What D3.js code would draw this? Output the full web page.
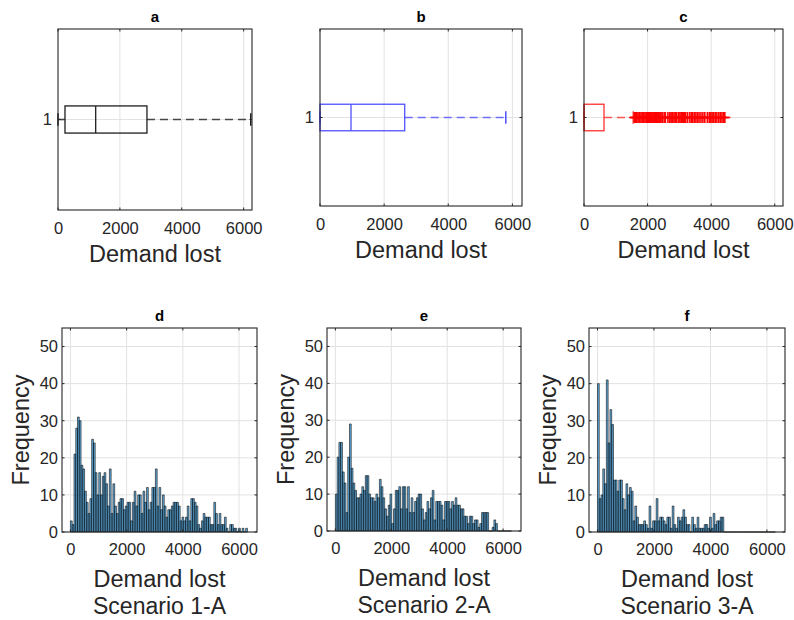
<!DOCTYPE html>
<html><head><meta charset="utf-8">
<script src="https://cdn.jsdelivr.net/npm/d3@7"></script>
<style>
body{margin:0;background:#fff}
svg{display:block}
text{font-family:"Liberation Sans",Arial,Helvetica,sans-serif}
</style>
</head><body>
<svg id="chart" width="794" height="620"></svg>
<script>
// ---------------- DATA ----------------
const boxTitles = ["a", "b", "c"];
const boxColors = ["#1f1f1f", "#5050ff", "#ff3030"];
// [lower whisker, q1, median, q3, upper whisker]
const boxA = [0, 226, 1218, 2875, 6230];
const boxB = [0, 0, 967, 2642, 5794];
const boxC = [0, 0, 8, 629, 1550];
const outliersC = [1590, 1620, 1660, 1700, 1740, 1790, 1830, 1880, 1920, 1960, 2000, 2030, 2060,
  2090, 2110, 2140, 2170, 2200, 2220, 2250, 2280, 2300, 2330, 2360, 2390, 2420, 2460, 2520, 2560,
  2640, 2700, 2740, 2780, 2830, 2870, 2920, 2980, 3020, 3060, 3100, 3130, 3160, 3200, 3260, 3330,
  3380, 3420, 3470, 3520, 3570, 3620, 3680, 3740, 3800, 3880, 3940, 3990, 4030, 4080, 4130, 4180,
  4240, 4290, 4340, 4390, 4430];
const boxXMax = [6270, 6300, 6260];
const boxTicks = [0, 2000, 4000, 6000];

const histTitles = ["d", "e", "f"];
const scenarioLabels = ["Scenario 1-A", "Scenario 2-A", "Scenario 3-A"];
const binStart = 0;
const binWidth = 63;
const histD = [3,2,21,28,31,30,18,17,11,8, 5,9,25,24,16,10,16,10,15,16,
  13,7,17,5,13,7,5,8,9,9, 6,7,8,8,3,8,11,7,10,10,
  5,11,8,12,6,8,12,12,17,7, 12,6,10,7,4,6,6,7,8,8,
  8,7,3,4,3,4,7,3,9,9, 8,7,2,1,3,5,4,4,4,2,
  2,8,5,2,5,2,2,4,1,0, 2,2,1,1,0,1,0,1,0,1];
const histE = [10,20,24,24,16,13,5,20,29,17, 13,11,9,9,10,12,11,15,15,10,
  9,9,8,10,9,14,12,9,6,4, 7,10,2,6,11,11,12,6,12,12,
  6,12,5,9,5,8,9,10,10,6, 3,5,8,6,9,11,3,8,8,8,
  7,3,8,8,8,6,8,7,9,7, 7,6,6,4,4,2,4,4,2,3,
  3,1,2,5,5,5,5,0,0,1, 3,2,0,0,0,0,0,0,0,0];
const histF = [40,9,10,17,13,41,24,33,29,14, 14,11,14,14,9,6,13,10,12,11,
  3,7,4,2,2,2,3,2,1,7, 1,3,3,9,3,4,4,3,2,4,
  4,1,7,2,1,4,3,4,6,4, 2,2,0,4,2,1,4,1,1,1,
  2,2,1,4,1,5,2,3,3,4, 4,0,0,0,0,0,0,0,0,0,
  0,0,0,0,0,0,0,0,0,0, 0,0,0,0,0,0,0,0,0,0];
const histXDomain = [-300, 6640];
const histYDomain = [0, 55];
const histXTicks = [0, 2000, 4000, 6000];
const histYTicks = [0, 10, 20, 30, 40, 50];
const xLabel = "Demand lost";
const yLabel = "Frequency";

// ---------------- LAYOUT ----------------
const topAxes = [
  {x0: 58, x1: 252, y0: 29, y1: 210},
  {x0: 320, x1: 522, y0: 29, y1: 206},
  {x0: 584, x1: 783, y0: 29, y1: 206}
];
const botAxes = [
  {x0: 62, x1: 257, y0: 328, y1: 532},
  {x0: 327, x1: 521, y0: 328, y1: 531},
  {x0: 589, x1: 785, y0: 328, y1: 532}
];
const AXC = "#262626", GRID = "#e2e2e2", TICKFS = 16.5, LABFS = 23.5, TITLEFS = 15;

const svg = d3.select("#chart");

function drawGrid(g, ax, xs, ys, xt, yt) {
  g.selectAll(null).data(xt).enter().append("line")
    .attr("x1", d => xs(d)).attr("x2", d => xs(d)).attr("y1", ax.y0).attr("y2", ax.y1)
    .attr("stroke", GRID).attr("stroke-width", 1);
  g.selectAll(null).data(yt).enter().append("line")
    .attr("x1", ax.x0).attr("x2", ax.x1).attr("y1", d => ys(d)).attr("y2", d => ys(d))
    .attr("stroke", GRID).attr("stroke-width", 1);
}
function drawFrame(g, ax, xs, ys, xt, yt) {
  const tl = 2.5;
  g.append("rect").attr("x", ax.x0).attr("y", ax.y0)
    .attr("width", ax.x1 - ax.x0).attr("height", ax.y1 - ax.y0)
    .attr("fill", "none").attr("stroke", AXC).attr("stroke-width", 1.1);
  xt.forEach(v => {
    const x = xs(v);
    g.append("line").attr("x1", x).attr("x2", x).attr("y1", ax.y1).attr("y2", ax.y1 - tl).attr("stroke", AXC);
    g.append("line").attr("x1", x).attr("x2", x).attr("y1", ax.y0).attr("y2", ax.y0 + tl).attr("stroke", AXC);
  });
  yt.forEach(v => {
    const y = ys(v);
    g.append("line").attr("x1", ax.x0).attr("x2", ax.x0 + tl).attr("y1", y).attr("y2", y).attr("stroke", AXC);
    g.append("line").attr("x1", ax.x1).attr("x2", ax.x1 - tl).attr("y1", y).attr("y2", y).attr("stroke", AXC);
  });
}
function styleAxis(sel, fs) {
  sel.select(".domain").remove();
  sel.selectAll("text").attr("font-size", fs).attr("fill", AXC)
    .attr("font-family", '"Liberation Sans",Arial,Helvetica,sans-serif');
}

// ---------------- BOX PLOTS ----------------
const boxStats = [boxA, boxB, boxC];
const boxOutliers = [[], [], outliersC];
topAxes.forEach((ax, i) => {
  const g = svg.append("g");
  const xs = d3.scaleLinear().domain([0, boxXMax[i]]).range([ax.x0, ax.x1]);
  const ys = d3.scaleLinear().domain([0.5, 1.5]).range([ax.y1, ax.y0]);
  const xt = boxTicks.filter(t => t > 0);
  drawGrid(g, ax, xs, ys, xt, [1]);
  const col = boxColors[i];
  const s = boxStats[i];
  const yc = ys(1), hb = Math.abs(ys(1.075) - ys(1)), hc = Math.abs(ys(1.035) - ys(1));
  // whiskers (dashed)
  g.append("line").attr("x1", xs(s[3])).attr("x2", xs(s[4])).attr("y1", yc).attr("y2", yc)
    .attr("stroke", col).attr("stroke-opacity", 0.8).attr("stroke-width", 1.6).attr("stroke-dasharray", "8,5");
  if (s[1] > s[0]) g.append("line").attr("x1", xs(s[0])).attr("x2", xs(s[1])).attr("y1", yc).attr("y2", yc)
    .attr("stroke", col).attr("stroke-opacity", 0.8).attr("stroke-width", 1.6).attr("stroke-dasharray", "8,5");
  // caps
  [s[0], s[4]].forEach(v => g.append("line").attr("x1", xs(v)).attr("x2", xs(v))
    .attr("y1", yc - hc).attr("y2", yc + hc).attr("stroke", col).attr("stroke-width", 1.5));
  // box
  g.append("rect").attr("x", xs(s[1])).attr("y", yc - hb).attr("width", xs(s[3]) - xs(s[1]))
    .attr("height", 2 * hb).attr("fill", "none").attr("stroke", col).attr("stroke-width", 1.3);
  // median
  g.append("line").attr("x1", xs(s[2])).attr("x2", xs(s[2])).attr("y1", yc - hb).attr("y2", yc + hb)
    .attr("stroke", col).attr("stroke-width", 1.3);
  // outliers
  const ms = 5.5;
  boxOutliers[i].forEach(v => {
    g.append("path").attr("d", `M${xs(v) - ms},${yc}H${xs(v) + ms}M${xs(v)},${yc - ms}V${yc + ms}`)
      .attr("stroke", "#ff0000").attr("stroke-width", 1.6).attr("fill", "none");
  });
  drawFrame(g, ax, xs, ys, boxTicks, [1]);
  // axes labels
  const xa = g.append("g").attr("transform", `translate(0,${ax.y1})`)
    .call(d3.axisBottom(xs).tickValues(boxTicks).tickSize(0).tickPadding(12).tickFormat(d3.format("d")));
  styleAxis(xa, TICKFS);
  const ya = g.append("g").attr("transform", `translate(${ax.x0},0)`)
    .call(d3.axisLeft(ys).tickValues([1]).tickSize(0).tickPadding(6).tickFormat(d3.format("d")));
  styleAxis(ya, TICKFS);
  g.append("text").attr("x", (ax.x0 + ax.x1) / 2).attr("y", 22).attr("text-anchor", "middle")
    .attr("font-size", TITLEFS).attr("font-weight", "bold").attr("fill", "#000").text(boxTitles[i]);
  g.append("text").attr("x", (ax.x0 + ax.x1) / 2).attr("y", ax.y1 + 52).attr("text-anchor", "middle")
    .attr("font-size", LABFS).attr("fill", AXC).text(xLabel);
});

// ---------------- HISTOGRAMS ----------------
const histData = [histD, histE, histF];
botAxes.forEach((ax, i) => {
  const g = svg.append("g");
  const xs = d3.scaleLinear().domain(histXDomain).range([ax.x0, ax.x1]);
  const ys = d3.scaleLinear().domain(histYDomain).range([ax.y1, ax.y0]);
  drawGrid(g, ax, xs, ys, histXTicks, histYTicks.filter(t => t > 0));
  const bins = histData[i].map((c, k) => ({x0: binStart + k * binWidth, x1: binStart + (k + 1) * binWidth, c}));
  g.selectAll(null).data(bins).enter().append("path")
    .attr("d", b => `M${xs(b.x0)},${ys(0)}V${ys(b.c)}H${xs(b.x1)}V${ys(0)}Z`)
    .attr("fill", "#0072bd").attr("fill-opacity", 0.62)
    .attr("stroke", "#000").attr("stroke-width", 0.55);
  drawFrame(g, ax, xs, ys, histXTicks, histYTicks);
  const xa = g.append("g").attr("transform", `translate(0,${ax.y1})`)
    .call(d3.axisBottom(xs).tickValues(histXTicks).tickSize(0).tickPadding(11.5).tickFormat(d3.format("d")));
  styleAxis(xa, TICKFS);
  const ya = g.append("g").attr("transform", `translate(${ax.x0},0)`)
    .call(d3.axisLeft(ys).tickValues(histYTicks).tickSize(0).tickPadding(4).tickFormat(d3.format("d")));
  styleAxis(ya, TICKFS);
  const cx = (ax.x0 + ax.x1) / 2;
  g.append("text").attr("x", cx).attr("y", 320.5).attr("text-anchor", "middle")
    .attr("font-size", TITLEFS).attr("font-weight", "bold").attr("fill", "#000").text(histTitles[i]);
  g.append("text").attr("x", cx).attr("y", ax.y1 + 55).attr("text-anchor", "middle")
    .attr("font-size", LABFS).attr("fill", AXC).text(xLabel);
  g.append("text").attr("x", cx).attr("y", ax.y1 + 82).attr("text-anchor", "middle")
    .attr("font-size", 23).attr("fill", AXC).text(scenarioLabels[i]);
  g.append("text").attr("transform", `translate(${ax.x0 - 33},${(ax.y0 + ax.y1) / 2}) rotate(-90)`)
    .attr("text-anchor", "middle").attr("font-size", LABFS).attr("fill", AXC).text(yLabel);
});
</script>
</body></html>
